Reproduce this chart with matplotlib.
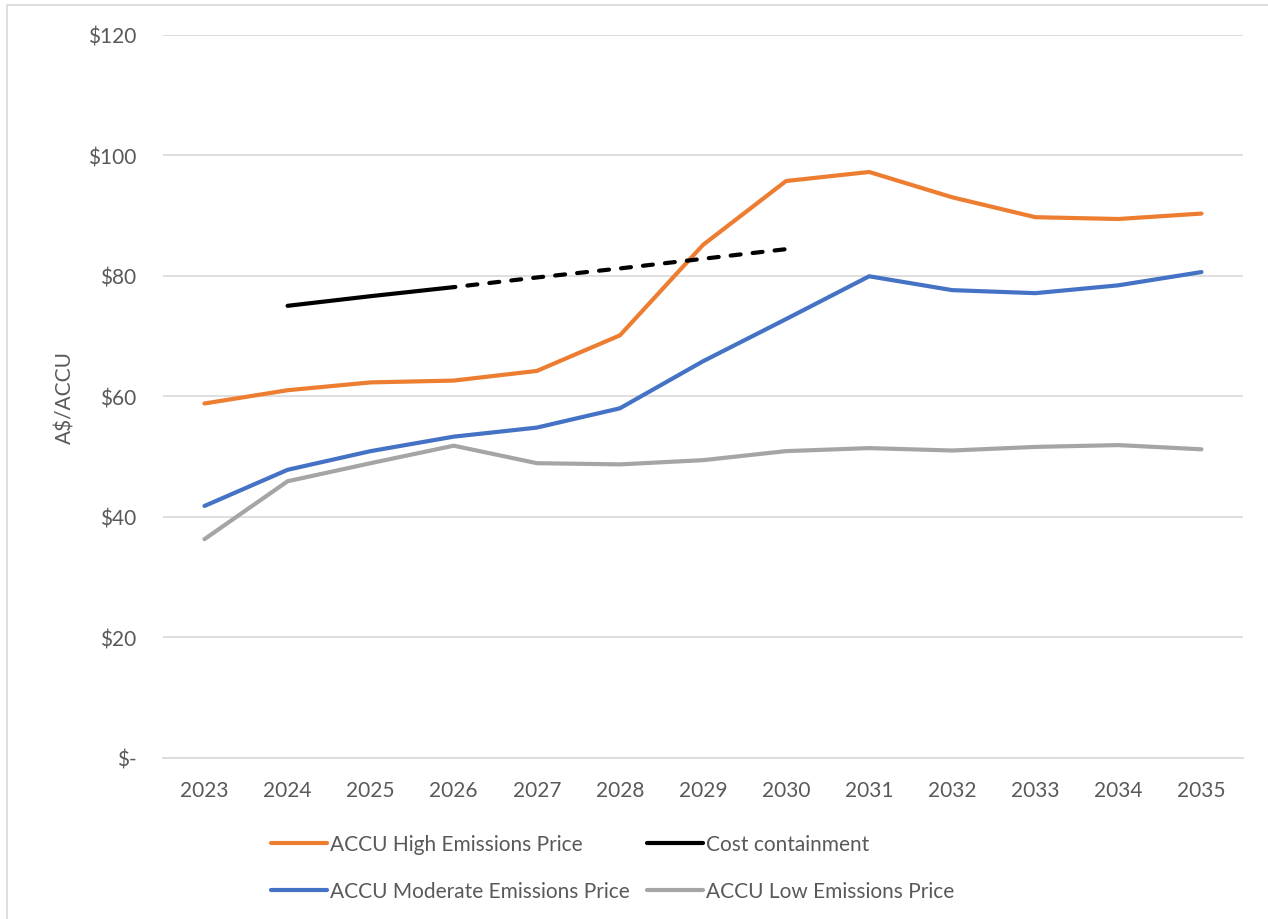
import matplotlib.pyplot as plt
from matplotlib.lines import Line2D
from matplotlib.patches import Rectangle

plt.rcParams['font.family'] = ['Lato', 'DejaVu Sans']

years = [2023, 2024, 2025, 2026, 2027, 2028, 2029, 2030, 2031, 2032, 2033, 2034, 2035]
high = [58.8, 61.0, 62.3, 62.6, 64.2, 70.1, 85.1, 95.7, 97.2, 93.0, 89.7, 89.4, 90.3]
moderate = [41.8, 47.8, 50.9, 53.3, 54.8, 58.0, 65.8, 72.8, 79.9, 77.6, 77.1, 78.4, 80.6]
low = [36.3, 45.9, 48.9, 51.8, 48.9, 48.7, 49.4, 50.9, 51.4, 51.0, 51.6, 51.9, 51.2]

# cost containment: solid to 2026, dashed projection after
cc_years_solid = [2024, 2025, 2026]
cc_solid = [75.0, 76.6, 78.1]
cc_years_dash = [2026, 2027, 2028, 2029, 2030]
cc_dash = [78.1, 79.7, 81.2, 82.8, 84.4]

yticks = [0, 20, 40, 60, 80, 100, 120]
ytick_labels = ['$-', '$20', '$40', '$60', '$80', '$100', '$120']

ORANGE = '#ED7D31'
BLUE = '#4472C4'
GREY = '#A5A5A5'
TEXT = '#595959'
GRID = '#D9D9D9'
LW = 3.0
FS = 15

fig = plt.figure(figsize=(12.68, 9.2), dpi=100)
ax = fig.add_axes([0.1285, 0.175, 0.8518, 0.7864])

ax.plot(years, high, color=ORANGE, lw=LW, solid_capstyle='round', solid_joinstyle='round')
ax.plot(years, moderate, color=BLUE, lw=LW, solid_capstyle='round', solid_joinstyle='round')
ax.plot(years, low, color=GREY, lw=LW, solid_capstyle='round', solid_joinstyle='round')
ax.plot(cc_years_solid, cc_solid, color='black', lw=LW, solid_capstyle='round')
ax.plot(cc_years_dash, cc_dash, color='black', lw=LW, ls=(2.0, (2.4, 2.9)),
        dash_capstyle='round')

ax.set_xlim(2022.5, 2035.5)
ax.set_ylim(0, 120)
ax.set_xticks(years)
ax.set_xticklabels([str(y) for y in years])
ax.set_yticks(yticks)
ax.set_yticklabels(ytick_labels)
ax.tick_params(length=0, labelsize=FS, colors=TEXT)
ax.tick_params(axis='y', pad=19)
ax.tick_params(axis='x', pad=16)
ax.grid(axis='y', color=GRID, lw=1.2)
ax.set_axisbelow(True)
for s in ['top', 'right', 'left']:
    ax.spines[s].set_visible(False)
ax.spines['bottom'].set_color(GRID)
ax.spines['bottom'].set_linewidth(1.2)

ax.set_ylabel('A$/ACCU', fontsize=FS, color=TEXT, labelpad=9)

handles = [Line2D([], [], color=ORANGE, lw=LW, solid_capstyle='round'),
           Line2D([], [], color=BLUE, lw=LW, solid_capstyle='round'),
           Line2D([], [], color='black', lw=LW, solid_capstyle='round'),
           Line2D([], [], color=GREY, lw=LW, solid_capstyle='round')]
labels = ['ACCU High Emissions Price', 'ACCU Moderate Emissions Price',
          'Cost containment', 'ACCU Low Emissions Price']
leg = fig.legend(handles, labels, ncol=2, loc='upper left',
                 bbox_to_anchor=(0.207, 0.101), frameon=False, fontsize=FS,
                 handlelength=2.7, handletextpad=0.15, columnspacing=0.8,
                 labelspacing=1.27, borderaxespad=0)
for t in leg.get_texts():
    t.set_color(TEXT)

# chart area border
fig.patches.append(Rectangle((7 / 1268, -0.01), 1.1, 1 - 6 / 920 + 0.01,
                             transform=fig.transFigure, fill=False,
                             edgecolor=GRID, lw=1.2))

fig.savefig('out.png', dpi=100, facecolor='white')
